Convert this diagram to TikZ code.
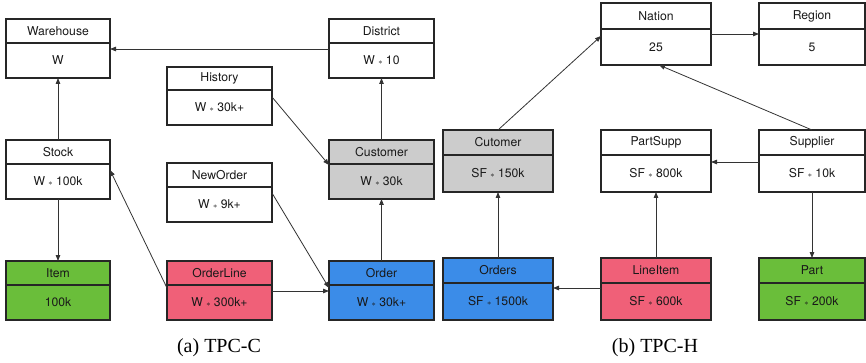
\documentclass[tikz,border=0pt]{standalone}
\usepackage{fontspec}
\setmainfont{TeX Gyre Heros}
\newfontfamily\capfont{Liberation Serif}
\usetikzlibrary{arrows.meta,calc}
\definecolor{cgreen}{RGB}{106,190,58}
\definecolor{cpink}{RGB}{240,96,120}
\definecolor{cblue}{RGB}{59,140,232}
\definecolor{cgray}{RGB}{204,204,204}
\tikzset{
  tbl/.style={draw=black!85, line width=1.4pt, inner sep=0pt, outer sep=0pt},
  tblline/.style={draw=black!85, line width=1.4pt},
  txt/.style={inner sep=0pt, font=\fontsize{12.2}{14}\selectfont, text=black!90},
  arr/.style={draw=black!80, line width=0.8pt, -{Triangle[length=6pt,width=4.5pt]}},
  captxt/.style={font=\capfont\fontsize{20}{24}\selectfont, inner sep=0pt}
}
\newcommand\st{ {\fontsize{8}{8}\selectfont$\ast$} }
% #1 name, #2 cx, #3 top, #4 w, #5 h, #6 header h, #7 fill, #8 title, #9 value
\newcommand\tablebox[9]{%
  \node[tbl, fill=#7, minimum width=#4pt, minimum height=#5pt, anchor=north] (#1) at (#2,#3) {};
  \draw[tblline] ($(#1.north west)+(0,#6)$) -- ($(#1.north east)+(0,#6)$);
  \node[txt] (#1-t) at ($(#1.north)+(0,{#6/2})$) {#8};
  \node[txt] (#1-v) at ($(#1.south)+(0,{-(#5-#6)/2})$) {#9};
}
\begin{document}
\begin{tikzpicture}[x=1pt,y=-1pt]
\useasboundingbox (0,0) rectangle (866,363);
% TPC-C
\tablebox{Warehouse}{58}{19}{104}{59}{24}{white}{Warehouse}{W}
\tablebox{District}{381.5}{19}{105}{59}{24}{white}{District}{W\st 10}
\tablebox{History}{219.5}{67}{105}{58}{23}{white}{History}{W\st 30k+}
\tablebox{Stock}{58}{140}{104}{59}{24}{white}{Stock}{W\st 100k}
\tablebox{Customer}{381.5}{140}{105}{59}{24}{cgray}{Customer}{W\st 30k}
\tablebox{NewOrder}{219.5}{163}{105}{59}{24}{white}{NewOrder}{W\st 9k+}
\tablebox{Item}{58}{261}{104}{59}{24}{cgreen}{Item}{100k}
\tablebox{OrderLine}{219.5}{261}{105}{59}{24}{cpink}{OrderLine}{W\st 300k+}
\tablebox{Order}{381.5}{261}{105}{59}{24}{cblue}{Order}{W\st 30k+}
\node[captxt] (capA) at (219,348) {(a) TPC-C};
% TPC-C arrows
\draw[arr] (District.west |- 0,49) -- (Warehouse.east |- 0,49);
\draw[arr] (Stock.north) -- (Warehouse.south);
\draw[arr] (Customer.north) -- (District.south);
\draw[arr] (History.east |- 0,97) -- (Customer.west |- 0,165);
\draw[arr] (Stock.south) -- (Item.north);
\draw[arr] (OrderLine.west |- 0,288) -- (Stock.east |- 0,170);
\draw[arr] (NewOrder.east |- 0,193) -- (Order.west |- 0,288);
\draw[arr] (OrderLine.east |- 0,291) -- (Order.west |- 0,291);
\draw[arr] (Order.north) -- (Customer.south);
% TPC-H
\tablebox{Nation}{656}{3}{110}{62}{26}{white}{Nation}{25}
\tablebox{Region}{812}{3}{106}{62}{26}{white}{Region}{5}
\tablebox{Cutomer}{498}{130}{110}{62}{25}{cgray}{Cutomer}{SF\st 150k}
\tablebox{PartSupp}{656}{130}{110}{62}{25}{white}{PartSupp}{SF\st 800k}
\tablebox{Supplier}{812}{130}{106}{62}{25}{white}{Supplier}{SF\st 10k}
\tablebox{Orders}{498}{258}{110}{62}{25}{cblue}{Orders}{SF\st 1500k}
\tablebox{LineItem}{656}{258}{110}{62}{25}{cpink}{LineItem}{SF\st 600k}
\tablebox{Part}{812}{258}{106}{62}{25}{cgreen}{Part}{SF\st 200k}
\node[captxt] (capB) at (655,348) {(b) TPC-H};
% TPC-H arrows
\draw[arr] (Cutomer.north) -- (Nation.west |- 0,36);
\draw[arr] (Nation.east |- 0,34) -- (Region.west |- 0,34);
\draw[arr] (Supplier.north) -- ([xshift=3pt]Nation.south);
\draw[arr] (Supplier.west |- 0,162) -- (PartSupp.east |- 0,162);
\draw[arr] (Orders.north) -- (Cutomer.south);
\draw[arr] (LineItem.north) -- (PartSupp.south);
\draw[arr] (LineItem.west |- 0,288) -- (Orders.east |- 0,288);
\draw[arr] (Supplier.south) -- (Part.north);
\end{tikzpicture}
\end{document}
